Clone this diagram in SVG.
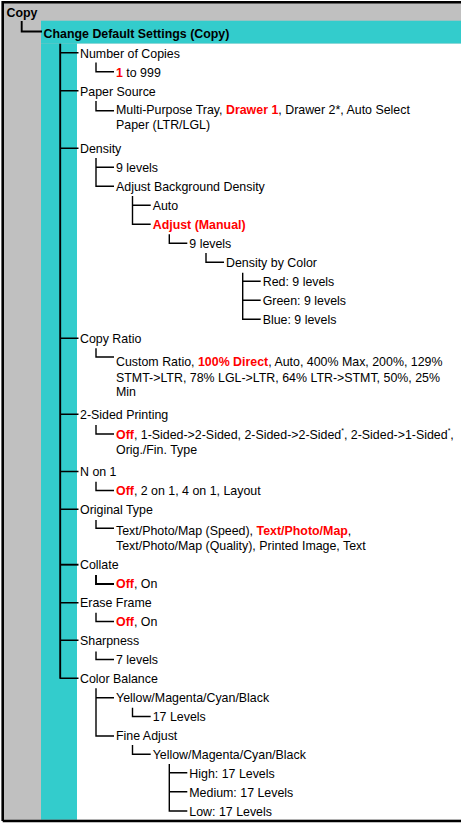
<svg xmlns="http://www.w3.org/2000/svg" width="461" height="823" viewBox="0 0 461 823">
<style>
text{font-family:"Liberation Sans",Arial,sans-serif;font-size:12.4px;fill:#000}
.b{font-weight:bold}
.r{font-weight:bold;fill:#FF0000}
.sup{font-size:7px}
.c path{fill:none;stroke:#000;stroke-width:1.4}
.c path.m{stroke-width:1.9}
</style>
<rect x="0" y="0" width="461" height="823" fill="#FFFFFF"/>
<g id="frame">
<rect x="3" y="2" width="458" height="818.5" fill="#C0C0C0"/>
<rect x="41" y="20.7" width="420" height="23" fill="#33CCCC"/>
<rect x="41" y="43.7" width="36" height="776" fill="#33CCCC"/>
<rect x="77" y="43.7" width="384" height="776" fill="#FFFFFF"/>
<path d="M2.7,821 V2.3 H461 M2.7,821 H461" fill="none" stroke="#000" stroke-width="2.6"/>
</g>
<g class="c" id="connectors">
<path class="m" d="M21.7,21 V31.5 H42"/>
<path class="m" d="M60.2,43.7 V678.7"/>
<path d="M60,52.8 H78.5 M60,90.8 H78.5 M60,148.3 H78.5 M60,338.3 H78.5 M60,414.3 H78.5 M60,471.5 H78.5 M60,509.3 H78.5 M60,602.7 H78.5 M60,640.3 H78.5 M60,678.3 H78.5"/>
<path class="m" d="M60,564.7 H78.5"/>
<path d="M96,62.5 V71.8 H114"/>
<path d="M96,101 V110.7 H114"/>
<path d="M96,158 V186.3 H114 M96,167.3 H114"/>
<path d="M96,348.3 V357 H114"/>
<path d="M96,425 V434 H114"/>
<path d="M96,481.7 V490.5 H114"/>
<path d="M96,520 V528.3 H114"/>
<path class="m" d="M96,575 V584 H114"/>
<path d="M96,612.7 V621.5 H114"/>
<path d="M96,651.5 V659.5 H114"/>
<path d="M96,688.3 V736 H114 M96,697.7 H114"/>
<path d="M132.5,196 V224.3 H150.7 M132.5,205.3 H150.7"/>
<path d="M132.5,707.7 V716.5 H150.7"/>
<path d="M132.5,745 V754.3 H150.7"/>
<path d="M169.3,234.3 V243.3 H187.3"/>
<path d="M169.3,764 V811 H187.3 M169.3,772.7 H187.3 M169.3,791.7 H187.3"/>
<path d="M206,253 V262.3 H224"/>
<path d="M242.7,272.7 V319.3 H260.7 M242.7,281.3 H260.7 M242.7,300.3 H260.7"/>
</g>
<g id="n-copy"><text class="b" x="6.5" y="16.5">Copy</text></g>
<g id="n-change"><text class="b" x="43.5" y="37.5">Change Default Settings (Copy)</text></g>
<g id="n-number-of-copies"><text x="80" y="57.5">Number of Copies</text></g>
<g id="n-copies-range"><text x="116" y="76.5"><tspan class="r">1</tspan> to 999</text></g>
<g id="n-paper-source"><text x="80" y="95.5">Paper Source</text></g>
<g id="n-paper-options"><text x="116" y="113.5">Multi-Purpose Tray, <tspan class="r">Drawer 1</tspan>, Drawer 2*, Auto Select</text><text x="116" y="129">Paper (LTR/LGL)</text></g>
<g id="n-density"><text x="80" y="153">Density</text></g>
<g id="n-density-levels"><text x="116" y="172">9 levels</text></g>
<g id="n-adjust-bg"><text x="116" y="191">Adjust Background Density</text></g>
<g id="n-auto"><text x="152.7" y="210">Auto</text></g>
<g id="n-adjust-manual"><text class="r" x="152.7" y="229">Adjust (Manual)</text></g>
<g id="n-manual-levels"><text x="189.3" y="248">9 levels</text></g>
<g id="n-density-color"><text x="226" y="267">Density by Color</text></g>
<g id="n-red"><text x="262.7" y="286">Red: 9 levels</text></g>
<g id="n-green"><text x="262.7" y="305">Green: 9 levels</text></g>
<g id="n-blue"><text x="262.7" y="324">Blue: 9 levels</text></g>
<g id="n-copy-ratio"><text x="80" y="343">Copy Ratio</text></g>
<g id="n-ratio-options"><text x="116" y="366">Custom Ratio, <tspan class="r">100% Direct</tspan>, Auto, 400% Max, 200%, 129%</text><text x="116" y="381.5">STMT-&gt;LTR, 78% LGL-&gt;LTR, 64% LTR-&gt;STMT, 50%, 25%</text><text x="116" y="396">Min</text></g>
<g id="n-2sided"><text x="80" y="419">2-Sided Printing</text></g>
<g id="n-2sided-options"><text x="116" y="438.5"><tspan class="r">Off</tspan>, 1-Sided-&gt;2-Sided, 2-Sided-&gt;2-Sided<tspan class="sup" dy="-6">*</tspan><tspan dy="6">, 2-Sided-&gt;1-Sided</tspan><tspan class="sup" dy="-6">*</tspan><tspan dy="6">,</tspan></text><text x="116" y="454">Orig./Fin. Type</text></g>
<g id="n-non1"><text x="80" y="476">N on 1</text></g>
<g id="n-non1-options"><text x="116" y="495"><tspan class="r">Off</tspan>, 2 on 1, 4 on 1, Layout</text></g>
<g id="n-original-type"><text x="80" y="514">Original Type</text></g>
<g id="n-original-options"><text x="116" y="535">Text/Photo/Map (Speed), <tspan class="r">Text/Photo/Map</tspan>,</text><text x="116" y="550">Text/Photo/Map (Quality), Printed Image, Text</text></g>
<g id="n-collate"><text x="80" y="569">Collate</text></g>
<g id="n-collate-options"><text x="116" y="588"><tspan class="r">Off</tspan>, On</text></g>
<g id="n-erase"><text x="80" y="607">Erase Frame</text></g>
<g id="n-erase-options"><text x="116" y="626"><tspan class="r">Off</tspan>, On</text></g>
<g id="n-sharpness"><text x="80" y="645">Sharpness</text></g>
<g id="n-sharp-levels"><text x="116" y="664">7 levels</text></g>
<g id="n-color-balance"><text x="80" y="683">Color Balance</text></g>
<g id="n-ymcb"><text x="116" y="702">Yellow/Magenta/Cyan/Black</text></g>
<g id="n-ymcb-levels"><text x="152.7" y="721">17 Levels</text></g>
<g id="n-fine-adjust"><text x="116" y="740">Fine Adjust</text></g>
<g id="n-fine-ymcb"><text x="152.7" y="759">Yellow/Magenta/Cyan/Black</text></g>
<g id="n-high"><text x="189.3" y="778">High: 17 Levels</text></g>
<g id="n-medium"><text x="189.3" y="797">Medium: 17 Levels</text></g>
<g id="n-low"><text x="189.3" y="816">Low: 17 Levels</text></g>
</svg>
